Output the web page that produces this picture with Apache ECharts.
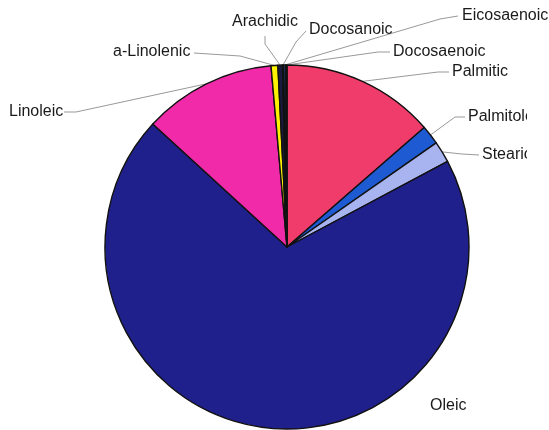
<!DOCTYPE html>
<html>
<head>
<meta charset="utf-8">
<script src="https://cdn.jsdelivr.net/npm/echarts@6/dist/echarts.min.js"></script>
<style>
  html, body { margin: 0; padding: 0; background: #fff; }
  #chart { width: 549px; height: 430px; }
</style>
</head>
<body>
<div id="chart"></div>
<script>
// Fatty acid composition (% of total), clockwise from 12 o'clock
const acids = ['Palmitic', 'Palmitoleic', 'Stearic', 'Oleic', 'Linoleic',
               'a-Linolenic', 'Arachidic', 'Docosanoic', 'Eicosaenoic', 'Docosaenoic'];
const shares = [13.6, 1.7, 1.9, 69.6, 11.8, 0.6, 0.4, 0.1, 0.2, 0.1];
const sliceColors = ['#f03c6a', '#1e5ad2', '#a8b4f0', '#20208c', '#f02aa8',
                     '#fff200', '#1a1a40', '#2a8cab', '#1a3a70', '#40a0c0'];

// Label placement: text anchor (left/middle unless align given) and leader bends
const labelPlace = {
  'Palmitic':    { x: 452, y: 72,  bends: [[438, 72], [449, 72]] },
  'Palmitoleic': { x: 468, y: 117, bends: [[455, 117], [465, 117]] },
  'Stearic':     { x: 482, y: 155, bends: [[462, 154], [479, 155]] },
  'Oleic':       { x: 430, y: 406, bends: null },
  'Linoleic':    { x: 9,   y: 112, bends: [[64, 112], [76, 112]], reverse: true },
  'a-Linolenic': { x: 113, y: 52,  bends: [[194, 53], [240, 56]], reverse: true },
  'Arachidic':   { x: 265, y: 22,  align: 'center', bends: [[265, 36], [265, 44]], reverse: true },
  'Docosanoic':  { x: 309, y: 30,  bends: [[296, 42], [306, 31]] },
  'Eicosaenoic': { x: 462, y: 16,  bends: [[440, 19], [458, 16]] },
  'Docosaenoic': { x: 393, y: 52,  bends: [[378, 52], [390, 52]] }
};

const chart = echarts.init(document.getElementById('chart'), null, { renderer: 'canvas' });

chart.setOption({
  backgroundColor: '#ffffff',
  animation: false,
  series: [{
    type: 'pie',
    center: [287, 247],
    radius: 182,
    startAngle: 90,
    clockwise: true,
    minAngle: 0,
    avoidLabelOverlap: false,
    itemStyle: { borderColor: '#111', borderWidth: 1.4 },
    emphasis: { disabled: true },
    label: {
      show: true,
      position: 'outside',
      color: '#1a1a1a',
      fontFamily: 'Liberation Sans, Arial, sans-serif',
      fontSize: 16
    },
    labelLine: {
      show: true,
      length: 10,
      length2: 10,
      lineStyle: { color: '#999999', width: 1 }
    },
    labelLayout: function (params) {
      const name = acids[params.dataIndex];
      const p = labelPlace[name];
      const out = {
        x: p.x, y: p.y,
        align: p.align || 'left',
        verticalAlign: 'middle'
      };
      if (p.bends && params.labelLinePoints) {
        const start = params.labelLinePoints[0];
        const pts = [start].concat(p.reverse ? p.bends.slice().reverse() : p.bends);
        out.labelLinePoints = pts;
      }
      return out;
    },
    data: acids.map(function (n, i) {
      const item = { name: n, value: shares[i], itemStyle: { color: sliceColors[i] } };
      if (!labelPlace[n].bends) item.labelLine = { show: false };
      return item;
    })
  }],
  graphic: [{
    // right margin mask that trims the two right-hand labels
    type: 'rect',
    z: 100,
    shape: { x: 527, y: 100, width: 22, height: 70 },
    style: { fill: '#ffffff' }
  }]
});
</script>
</body>
</html>
